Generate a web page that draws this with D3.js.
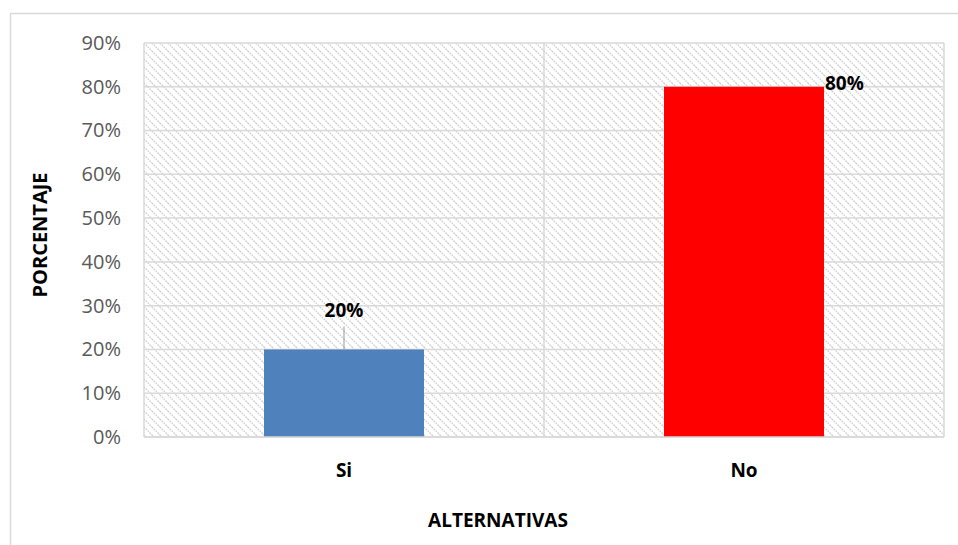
<!DOCTYPE html>
<html>
<head>
<meta charset="utf-8">
<script src="https://cdn.jsdelivr.net/npm/d3@7"></script>
<style>
  body { margin: 0; background: #fff; }
  text { font-family: "Open Sans", "Noto Sans", sans-serif; }
</style>
</head>
<body>
<div id="chart"></div>
<script>
var categories = ["Si", "No"];
var values = [0.20, 0.80];
var barColors = ["#4f81bd", "#ff0000"];
var tickValues = [0, 0.1, 0.2, 0.3, 0.4, 0.5, 0.6, 0.7, 0.8, 0.9];

var W = 958, H = 545;
var margin = {top: 43, right: 14, bottom: 108, left: 144},
    width = W - margin.left - margin.right,
    height = H - margin.top - margin.bottom;

var svg = d3.select("#chart").append("svg")
    .attr("width", W)
    .attr("height", H);

// hatch pattern for plot background
var defs = svg.append("defs");
var pat = defs.append("pattern")
    .attr("id", "hatch")
    .attr("patternUnits", "userSpaceOnUse")
    .attr("width", 8)
    .attr("height", 8);
pat.append("path")
    .attr("d", "M0,0 L8,8 M-1,7 L1,9 M7,-1 L9,1")
    .attr("stroke", "#d0d0d0")
    .attr("stroke-width", 1.4)
    .attr("stroke-dasharray", "1.6,1");

// outer chart border
svg.append("rect")
    .attr("x", 10.5).attr("y", 13.5)
    .attr("width", W + 20).attr("height", H + 20)
    .attr("fill", "none")
    .attr("stroke", "#d9d9d9")
    .attr("stroke-width", 1.5);

var g = svg.append("g")
    .attr("transform", "translate(" + margin.left + "," + margin.top + ")");

var x = d3.scaleBand()
    .domain(categories)
    .range([0, width])
    .paddingInner(0)
    .paddingOuter(0);

var y = d3.scaleLinear()
    .domain([0, 0.9])
    .range([height, 0]);

g.append("rect")
    .attr("width", width).attr("height", height)
    .attr("fill", "url(#hatch)");

// horizontal gridlines
g.selectAll(".grid")
    .data(tickValues)
    .enter().append("line")
    .attr("x1", 0).attr("x2", width)
    .attr("y1", function(d) { return y(d); })
    .attr("y2", function(d) { return y(d); })
    .attr("stroke", "#d9d9d9")
    .attr("stroke-width", 1.5);

// vertical category separators
var seps = [0].concat(categories.map(function(c) { return x(c) + x.bandwidth(); }));
g.selectAll(".sep")
    .data(seps)
    .enter().append("line")
    .attr("x1", function(d) { return d; })
    .attr("x2", function(d) { return d; })
    .attr("y1", 0).attr("y2", height)
    .attr("stroke", "#d9d9d9")
    .attr("stroke-width", 1.5);

// bars
var barW = x.bandwidth() * 0.4;
g.selectAll(".bar")
    .data(values)
    .enter().append("rect")
    .attr("class", "bar")
    .attr("x", function(d, i) { return x(categories[i]) + (x.bandwidth() - barW) / 2; })
    .attr("width", barW)
    .attr("y", function(d) { return y(d); })
    .attr("height", function(d) { return height - y(d); })
    .attr("fill", function(d, i) { return barColors[i]; });

// bottom axis line
g.append("line")
    .attr("x1", 0).attr("x2", width)
    .attr("y1", height).attr("y2", height)
    .attr("stroke", "#d9d9d9")
    .attr("stroke-width", 1.5);

// y tick labels
var yAxis = d3.axisLeft(y)
    .tickValues(tickValues)
    .tickFormat(d3.format(".0%"))
    .tickSize(0)
    .tickPadding(23);
var ya = g.append("g").call(yAxis);
ya.select(".domain").remove();
ya.selectAll("text")
    .style("font-size", "20px")
    .style("font-family", "'Open Sans', sans-serif")
    .attr("fill", "#595959");

// x category labels
var xAxis = d3.axisBottom(x).tickSize(0).tickPadding(27);
var xa = g.append("g").attr("transform", "translate(0," + height + ")").call(xAxis);
xa.select(".domain").remove();
xa.selectAll("text")
    .style("font-size", "19px")
    .style("font-weight", "bold")
    .style("font-family", "'Open Sans', sans-serif")
    .attr("fill", "#000");

// data labels
var lab0x = x(categories[0]) + x.bandwidth() / 2;
g.append("line")
    .attr("x1", lab0x).attr("x2", lab0x)
    .attr("y1", y(values[0]) - 23).attr("y2", y(values[0]))
    .attr("stroke", "#a6a6a6")
    .attr("stroke-width", 1.2);
g.append("text")
    .attr("x", lab0x)
    .attr("y", y(values[0]) - 32)
    .attr("text-anchor", "middle")
    .style("font-size", "19px")
    .style("font-weight", "bold")
    .text(d3.format(".0%")(values[0]));

g.append("text")
    .attr("x", x(categories[1]) + (x.bandwidth() + barW) / 2 + 1)
    .attr("y", y(values[1]) + 3)
    .attr("text-anchor", "start")
    .style("font-size", "19px")
    .style("font-weight", "bold")
    .text(d3.format(".0%")(values[1]));

// axis titles
svg.append("text")
    .attr("transform", "translate(47,235) rotate(-90)")
    .attr("text-anchor", "middle")
    .style("font-size", "20px")
    .style("font-weight", "bold")
    .text("PORCENTAJE");

svg.append("text")
    .attr("x", 498)
    .attr("y", 527)
    .attr("text-anchor", "middle")
    .style("font-size", "19px")
    .style("font-weight", "bold")
    .text("ALTERNATIVAS");
</script>
</body>
</html>
